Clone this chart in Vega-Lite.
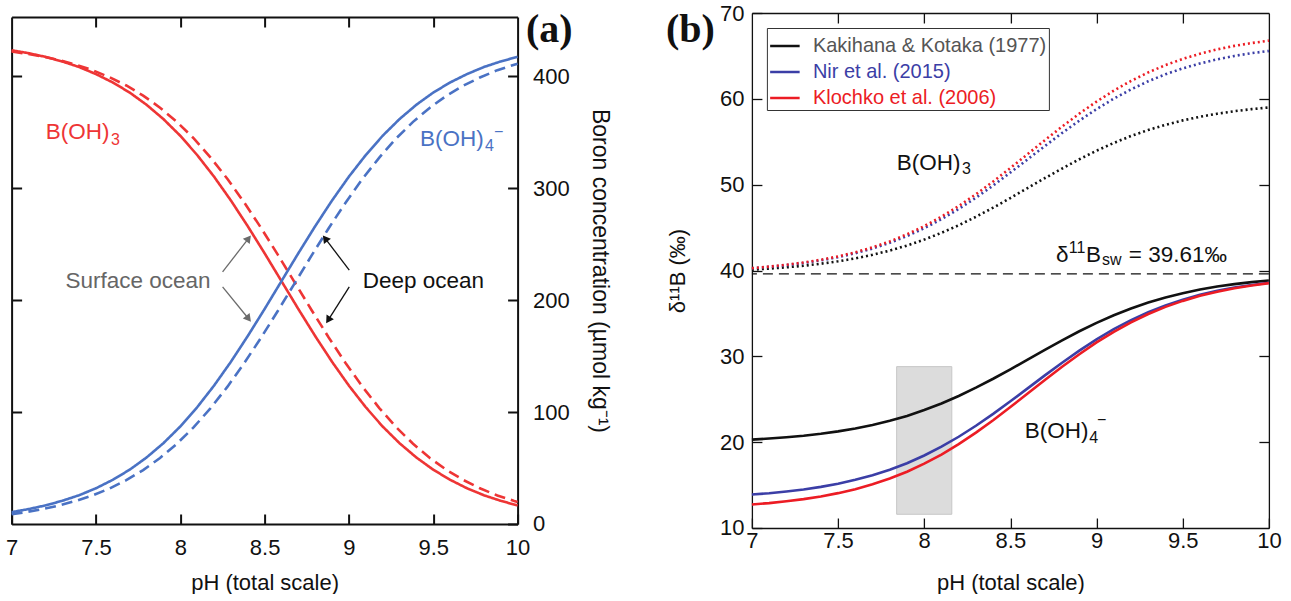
{
"$schema": "https://vega.github.io/schema/vega-lite/v6.json",
"padding": {"left": 4.6, "top": 2, "right": 5, "bottom": 0},
"background": "white",
"config": {"font": "Liberation Sans", "view": {"stroke": null},
 "axis": {"labelFont": "Liberation Sans", "titleFont": "Liberation Sans", "labelColor": "#111", "titleColor": "#111", "titleFontWeight": "normal", "grid": false, "tickColor": "#111", "domainColor": "#111", "labelFlush": false, "labelOverlap": false},
 "text": {"font": "Liberation Sans"}},
"datasets": {
 "boron": [
  {"pH":7.0,"water":"surface","B3":423.3,"B4":10.6},{"pH":7.1,"water":"surface","B3":420.7,"B4":13.3},{"pH":7.2,"water":"surface","B3":417.4,"B4":16.6},{"pH":7.3,"water":"surface","B3":413.3,"B4":20.7},{"pH":7.4,"water":"surface","B3":408.3,"B4":25.7},{"pH":7.5,"water":"surface","B3":402.0,"B4":31.9},{"pH":7.6,"water":"surface","B3":394.5,"B4":39.5},{"pH":7.7,"water":"surface","B3":385.5,"B4":48.5},{"pH":7.8,"water":"surface","B3":374.6,"B4":59.4},{"pH":7.9,"water":"surface","B3":361.8,"B4":72.2},{"pH":8.0,"water":"surface","B3":346.9,"B4":87.1},{"pH":8.1,"water":"surface","B3":329.7,"B4":104.3},{"pH":8.2,"water":"surface","B3":310.4,"B4":123.6},{"pH":8.3,"water":"surface","B3":289.1,"B4":144.9},{"pH":8.4,"water":"surface","B3":266.1,"B4":167.9},{"pH":8.5,"water":"surface","B3":241.9,"B4":192.1},{"pH":8.6,"water":"surface","B3":217.0,"B4":217.0},{"pH":8.7,"water":"surface","B3":192.1,"B4":241.9},{"pH":8.8,"water":"surface","B3":167.9,"B4":266.1},{"pH":8.9,"water":"surface","B3":144.9,"B4":289.1},{"pH":9.0,"water":"surface","B3":123.6,"B4":310.4},{"pH":9.1,"water":"surface","B3":104.3,"B4":329.7},{"pH":9.2,"water":"surface","B3":87.1,"B4":346.9},{"pH":9.3,"water":"surface","B3":72.2,"B4":361.8},{"pH":9.4,"water":"surface","B3":59.4,"B4":374.6},{"pH":9.5,"water":"surface","B3":48.5,"B4":385.5},{"pH":9.6,"water":"surface","B3":39.5,"B4":394.5},{"pH":9.7,"water":"surface","B3":31.9,"B4":402.0},{"pH":9.8,"water":"surface","B3":25.7,"B4":408.3},{"pH":9.9,"water":"surface","B3":20.7,"B4":413.3},{"pH":10.0,"water":"surface","B3":16.6,"B4":417.4},
  {"pH":7.0,"water":"deep","B3":422.2,"B4":8.8},{"pH":7.08,"water":"deep","B3":420.4,"B4":10.5},{"pH":7.18,"water":"deep","B3":417.8,"B4":13.2},{"pH":7.28,"water":"deep","B3":414.5,"B4":16.5},{"pH":7.38,"water":"deep","B3":410.4,"B4":20.6},{"pH":7.48,"water":"deep","B3":405.5,"B4":25.5},{"pH":7.58,"water":"deep","B3":399.2,"B4":31.7},{"pH":7.68,"water":"deep","B3":391.8,"B4":39.2},{"pH":7.78,"water":"deep","B3":382.8,"B4":48.2},{"pH":7.88,"water":"deep","B3":372.0,"B4":59.0},{"pH":7.98,"water":"deep","B3":359.3,"B4":71.7},{"pH":8.08,"water":"deep","B3":344.5,"B4":86.5},{"pH":8.18,"water":"deep","B3":327.4,"B4":103.6},{"pH":8.28,"water":"deep","B3":308.3,"B4":122.7},{"pH":8.38,"water":"deep","B3":287.1,"B4":143.9},{"pH":8.48,"water":"deep","B3":264.3,"B4":166.7},{"pH":8.58,"water":"deep","B3":240.2,"B4":190.8},{"pH":8.68,"water":"deep","B3":215.5,"B4":215.5},{"pH":8.78,"water":"deep","B3":190.8,"B4":240.2},{"pH":8.88,"water":"deep","B3":166.7,"B4":264.3},{"pH":8.98,"water":"deep","B3":143.9,"B4":287.1},{"pH":9.08,"water":"deep","B3":122.7,"B4":308.3},{"pH":9.18,"water":"deep","B3":103.6,"B4":327.4},{"pH":9.28,"water":"deep","B3":86.5,"B4":344.5},{"pH":9.38,"water":"deep","B3":71.7,"B4":359.3},{"pH":9.48,"water":"deep","B3":59.0,"B4":372.0},{"pH":9.58,"water":"deep","B3":48.2,"B4":382.8},{"pH":9.68,"water":"deep","B3":39.2,"B4":391.8},{"pH":9.78,"water":"deep","B3":31.7,"B4":399.2},{"pH":9.88,"water":"deep","B3":25.5,"B4":405.5},{"pH":9.98,"water":"deep","B3":20.6,"B4":410.4},{"pH":10.0,"water":"deep","B3":19.7,"B4":411.3}
 ],
 "iso": [
  {"pH":7.0,"src":"Kakihana & Kotaka (1977)","d4":20.30,"d3":40.10},{"pH":7.1,"src":"Kakihana & Kotaka (1977)","d4":20.42,"d3":40.22},{"pH":7.2,"src":"Kakihana & Kotaka (1977)","d4":20.57,"d3":40.37},{"pH":7.3,"src":"Kakihana & Kotaka (1977)","d4":20.75,"d3":40.56},{"pH":7.4,"src":"Kakihana & Kotaka (1977)","d4":20.98,"d3":40.79},{"pH":7.5,"src":"Kakihana & Kotaka (1977)","d4":21.26,"d3":41.07},{"pH":7.6,"src":"Kakihana & Kotaka (1977)","d4":21.59,"d3":41.41},{"pH":7.7,"src":"Kakihana & Kotaka (1977)","d4":22.00,"d3":41.83},{"pH":7.8,"src":"Kakihana & Kotaka (1977)","d4":22.49,"d3":42.32},{"pH":7.9,"src":"Kakihana & Kotaka (1977)","d4":23.06,"d3":42.91},{"pH":8.0,"src":"Kakihana & Kotaka (1977)","d4":23.74,"d3":43.60},{"pH":8.1,"src":"Kakihana & Kotaka (1977)","d4":24.51,"d3":44.39},{"pH":8.2,"src":"Kakihana & Kotaka (1977)","d4":25.38,"d3":45.27},{"pH":8.3,"src":"Kakihana & Kotaka (1977)","d4":26.35,"d3":46.26},{"pH":8.4,"src":"Kakihana & Kotaka (1977)","d4":27.39,"d3":47.32},{"pH":8.5,"src":"Kakihana & Kotaka (1977)","d4":28.49,"d3":48.44},{"pH":8.6,"src":"Kakihana & Kotaka (1977)","d4":29.62,"d3":49.60},{"pH":8.7,"src":"Kakihana & Kotaka (1977)","d4":30.76,"d3":50.76},{"pH":8.8,"src":"Kakihana & Kotaka (1977)","d4":31.87,"d3":51.88},{"pH":8.9,"src":"Kakihana & Kotaka (1977)","d4":32.92,"d3":52.96},{"pH":9.0,"src":"Kakihana & Kotaka (1977)","d4":33.90,"d3":53.96},{"pH":9.1,"src":"Kakihana & Kotaka (1977)","d4":34.79,"d3":54.86},{"pH":9.2,"src":"Kakihana & Kotaka (1977)","d4":35.58,"d3":55.67},{"pH":9.3,"src":"Kakihana & Kotaka (1977)","d4":36.27,"d3":56.37},{"pH":9.4,"src":"Kakihana & Kotaka (1977)","d4":36.86,"d3":56.97},{"pH":9.5,"src":"Kakihana & Kotaka (1977)","d4":37.36,"d3":57.49},{"pH":9.6,"src":"Kakihana & Kotaka (1977)","d4":37.78,"d3":57.91},{"pH":9.7,"src":"Kakihana & Kotaka (1977)","d4":38.13,"d3":58.27},{"pH":9.8,"src":"Kakihana & Kotaka (1977)","d4":38.41,"d3":58.56},{"pH":9.9,"src":"Kakihana & Kotaka (1977)","d4":38.65,"d3":58.80},{"pH":10.0,"src":"Kakihana & Kotaka (1977)","d4":38.84,"d3":58.99},
  {"pH":7.0,"src":"Nir et al. (2015)","d4":13.90,"d3":40.26},{"pH":7.1,"src":"Nir et al. (2015)","d4":14.05,"d3":40.42},{"pH":7.2,"src":"Nir et al. (2015)","d4":14.25,"d3":40.62},{"pH":7.3,"src":"Nir et al. (2015)","d4":14.49,"d3":40.87},{"pH":7.4,"src":"Nir et al. (2015)","d4":14.79,"d3":41.18},{"pH":7.5,"src":"Nir et al. (2015)","d4":15.16,"d3":41.55},{"pH":7.6,"src":"Nir et al. (2015)","d4":15.61,"d3":42.01},{"pH":7.7,"src":"Nir et al. (2015)","d4":16.14,"d3":42.56},{"pH":7.8,"src":"Nir et al. (2015)","d4":16.79,"d3":43.23},{"pH":7.9,"src":"Nir et al. (2015)","d4":17.55,"d3":44.01},{"pH":8.0,"src":"Nir et al. (2015)","d4":18.45,"d3":44.93},{"pH":8.1,"src":"Nir et al. (2015)","d4":19.47,"d3":45.98},{"pH":8.2,"src":"Nir et al. (2015)","d4":20.63,"d3":47.17},{"pH":8.3,"src":"Nir et al. (2015)","d4":21.91,"d3":48.48},{"pH":8.4,"src":"Nir et al. (2015)","d4":23.30,"d3":49.90},{"pH":8.5,"src":"Nir et al. (2015)","d4":24.76,"d3":51.41},{"pH":8.6,"src":"Nir et al. (2015)","d4":26.27,"d3":52.95},{"pH":8.7,"src":"Nir et al. (2015)","d4":27.78,"d3":54.50},{"pH":8.8,"src":"Nir et al. (2015)","d4":29.26,"d3":56.02},{"pH":8.9,"src":"Nir et al. (2015)","d4":30.66,"d3":57.46},{"pH":9.0,"src":"Nir et al. (2015)","d4":31.97,"d3":58.80},{"pH":9.1,"src":"Nir et al. (2015)","d4":33.16,"d3":60.02},{"pH":9.2,"src":"Nir et al. (2015)","d4":34.21,"d3":61.10},{"pH":9.3,"src":"Nir et al. (2015)","d4":35.13,"d3":62.05},{"pH":9.4,"src":"Nir et al. (2015)","d4":35.93,"d3":62.86},{"pH":9.5,"src":"Nir et al. (2015)","d4":36.60,"d3":63.55},{"pH":9.6,"src":"Nir et al. (2015)","d4":37.16,"d3":64.12},{"pH":9.7,"src":"Nir et al. (2015)","d4":37.63,"d3":64.60},{"pH":9.8,"src":"Nir et al. (2015)","d4":38.01,"d3":65.00},{"pH":9.9,"src":"Nir et al. (2015)","d4":38.32,"d3":65.32},{"pH":10.0,"src":"Nir et al. (2015)","d4":38.58,"d3":65.58},
  {"pH":7.0,"src":"Klochko et al. (2006)","d4":12.74,"d3":40.28},{"pH":7.1,"src":"Klochko et al. (2006)","d4":12.90,"d3":40.45},{"pH":7.2,"src":"Klochko et al. (2006)","d4":13.11,"d3":40.67},{"pH":7.3,"src":"Klochko et al. (2006)","d4":13.36,"d3":40.93},{"pH":7.4,"src":"Klochko et al. (2006)","d4":13.67,"d3":41.25},{"pH":7.5,"src":"Klochko et al. (2006)","d4":14.06,"d3":41.64},{"pH":7.6,"src":"Klochko et al. (2006)","d4":14.52,"d3":42.12},{"pH":7.7,"src":"Klochko et al. (2006)","d4":15.09,"d3":42.70},{"pH":7.8,"src":"Klochko et al. (2006)","d4":15.76,"d3":43.39},{"pH":7.9,"src":"Klochko et al. (2006)","d4":16.56,"d3":44.21},{"pH":8.0,"src":"Klochko et al. (2006)","d4":17.49,"d3":45.17},{"pH":8.1,"src":"Klochko et al. (2006)","d4":18.56,"d3":46.27},{"pH":8.2,"src":"Klochko et al. (2006)","d4":19.77,"d3":47.51},{"pH":8.3,"src":"Klochko et al. (2006)","d4":21.11,"d3":48.88},{"pH":8.4,"src":"Klochko et al. (2006)","d4":22.56,"d3":50.37},{"pH":8.5,"src":"Klochko et al. (2006)","d4":24.09,"d3":51.94},{"pH":8.6,"src":"Klochko et al. (2006)","d4":25.66,"d3":53.56},{"pH":8.7,"src":"Klochko et al. (2006)","d4":27.24,"d3":55.18},{"pH":8.8,"src":"Klochko et al. (2006)","d4":28.78,"d3":56.77},{"pH":8.9,"src":"Klochko et al. (2006)","d4":30.25,"d3":58.28},{"pH":9.0,"src":"Klochko et al. (2006)","d4":31.62,"d3":59.68},{"pH":9.1,"src":"Klochko et al. (2006)","d4":32.86,"d3":60.95},{"pH":9.2,"src":"Klochko et al. (2006)","d4":33.96,"d3":62.09},{"pH":9.3,"src":"Klochko et al. (2006)","d4":34.93,"d3":63.08},{"pH":9.4,"src":"Klochko et al. (2006)","d4":35.76,"d3":63.93},{"pH":9.5,"src":"Klochko et al. (2006)","d4":36.46,"d3":64.65},{"pH":9.6,"src":"Klochko et al. (2006)","d4":37.05,"d3":65.25},{"pH":9.7,"src":"Klochko et al. (2006)","d4":37.53,"d3":65.76},{"pH":9.8,"src":"Klochko et al. (2006)","d4":37.94,"d3":66.17},{"pH":9.9,"src":"Klochko et al. (2006)","d4":38.26,"d3":66.50},{"pH":10.0,"src":"Klochko et al. (2006)","d4":38.53,"d3":66.78}
 ]
},
"hconcat": [
 {
  "width": 506, "height": 507,
  "resolve": {"axis": {"x": "independent", "y": "independent"}},
  "layer": [
   {"data": {"name": "boron"},
    "mark": {"type": "line", "color": "#ee3535", "strokeWidth": 2.6},
    "encoding": {
     "x": {"field": "pH", "type": "quantitative", "scale": {"domain": [7, 10], "nice": false, "zero": false},
       "axis": {"orient": "bottom", "values": [7, 7.5, 8, 8.5, 9, 9.5, 10], "format": "~g", "tickSize": -10, "tickWidth": 2, "domainWidth": 2, "labelPadding": 24, "labelFontSize": 22, "title": "pH (total scale)", "titleFontSize": 22, "titlePadding": 14}},
     "y": {"field": "B3", "type": "quantitative", "scale": {"domain": [0, 453], "nice": false},
       "axis": {"orient": "right", "values": [0, 100, 200, 300, 400], "tickSize": -10, "tickWidth": 2, "domainWidth": 2, "labelPadding": 25, "labelFontSize": 22, "title": "Boron concentration (µmol kg⁻¹)", "titleFontSize": 23, "titlePadding": 18}},
     "strokeDash": {"field": "water", "type": "nominal", "scale": {"domain": ["surface", "deep"], "range": [[1, 0], [11, 6]]}, "legend": null}
    }},
   {"data": {"name": "boron"},
    "mark": {"type": "line", "color": "#4a72c4", "strokeWidth": 2.6},
    "encoding": {
     "x": {"field": "pH", "type": "quantitative", "scale": {"domain": [7, 10], "nice": false, "zero": false}, "axis": null},
     "y": {"field": "B4", "type": "quantitative", "scale": {"domain": [0, 453], "nice": false}, "axis": null},
     "strokeDash": {"field": "water", "type": "nominal", "scale": {"domain": ["surface", "deep"], "range": [[1, 0], [11, 6]]}, "legend": null}
    }},
   {"data": {"values": [{"x1": 8.251, "y1": 225.3, "x2": 8.405, "y2": 255.2}, {"x1": 8.251, "y1": 211.9, "x2": 8.405, "y2": 183.4}]},
    "mark": {"type": "rule", "color": "#6b6b6b", "strokeWidth": 1.3},
    "encoding": {
     "x": {"field": "x1", "type": "quantitative", "scale": {"domain": [7, 10], "nice": false, "zero": false}, "axis": null},
     "y": {"field": "y1", "type": "quantitative", "scale": {"domain": [0, 453], "nice": false}, "axis": null},
     "x2": {"field": "x2"}, "y2": {"field": "y2"}}},
   {"data": {"values": [{"x1": 9.002, "y1": 226.8, "x2": 8.859, "y2": 255.2}, {"x1": 9.002, "y1": 211.9, "x2": 8.877, "y2": 182.2}]},
    "mark": {"type": "rule", "color": "#111111", "strokeWidth": 1.3},
    "encoding": {
     "x": {"field": "x1", "type": "quantitative", "scale": {"domain": [7, 10], "nice": false, "zero": false}, "axis": null},
     "y": {"field": "y1", "type": "quantitative", "scale": {"domain": [0, 453], "nice": false}, "axis": null},
     "x2": {"field": "x2"}, "y2": {"field": "y2"}}},
   {"data": {"values": [{"x": 8.405, "y": 255.2, "dir": 37.6}, {"x": 8.405, "y": 183.4, "dir": 141}]},
    "mark": {"type": "point", "shape": "triangle-up", "filled": true, "color": "#6b6b6b", "size": 75, "opacity": 1},
    "encoding": {
     "x": {"field": "x", "type": "quantitative", "scale": {"domain": [7, 10], "nice": false, "zero": false}, "axis": null},
     "y": {"field": "y", "type": "quantitative", "scale": {"domain": [0, 453], "nice": false}, "axis": null},
     "angle": {"field": "dir", "type": "quantitative", "scale": {"domain": [0, 360], "range": [0, 360]}, "legend": null}}},
   {"data": {"values": [{"x": 8.859, "y": 255.2, "dir": 322.8}, {"x": 8.877, "y": 182.2, "dir": 212.5}]},
    "mark": {"type": "point", "shape": "triangle-up", "filled": true, "color": "#111111", "size": 75, "opacity": 1},
    "encoding": {
     "x": {"field": "x", "type": "quantitative", "scale": {"domain": [7, 10], "nice": false, "zero": false}, "axis": null},
     "y": {"field": "y", "type": "quantitative", "scale": {"domain": [0, 453], "nice": false}, "axis": null},
     "angle": {"field": "dir", "type": "quantitative", "scale": {"domain": [0, 360], "range": [0, 360]}, "legend": null}}},
   {"data": {"values": [{"x": 7.203, "y": 344.4, "t": "B(OH)"}]},
    "mark": {"type": "text", "align": "left", "baseline": "alphabetic", "fontSize": 22.5, "color": "#ee3535"},
    "encoding": {
     "x": {"field": "x", "type": "quantitative", "scale": {"domain": [7, 10], "nice": false, "zero": false}, "axis": null},
     "y": {"field": "y", "type": "quantitative", "scale": {"domain": [0, 453], "nice": false}, "axis": null},
     "text": {"field": "t"}}},
   {"data": {"values": [{"x": 7.589, "y": 338.4, "t": "3"}]},
    "mark": {"type": "text", "align": "left", "baseline": "alphabetic", "fontSize": 16, "color": "#ee3535"},
    "encoding": {
     "x": {"field": "x", "type": "quantitative", "scale": {"domain": [7, 10], "nice": false, "zero": false}, "axis": null},
     "y": {"field": "y", "type": "quantitative", "scale": {"domain": [0, 453], "nice": false}, "axis": null},
     "text": {"field": "t"}}},
   {"data": {"values": [{"x": 9.422, "y": 337.5, "t": "B(OH)"}]},
    "mark": {"type": "text", "align": "left", "baseline": "alphabetic", "fontSize": 22.5, "color": "#4a72c4"},
    "encoding": {
     "x": {"field": "x", "type": "quantitative", "scale": {"domain": [7, 10], "nice": false, "zero": false}, "axis": null},
     "y": {"field": "y", "type": "quantitative", "scale": {"domain": [0, 453], "nice": false}, "axis": null},
     "text": {"field": "t"}}},
   {"data": {"values": [{"x": 9.807, "y": 333.3, "t": "4"}, {"x": 9.86, "y": 345.5, "t": "−"}]},
    "mark": {"type": "text", "align": "left", "baseline": "alphabetic", "fontSize": 16, "color": "#4a72c4"},
    "encoding": {
     "x": {"field": "x", "type": "quantitative", "scale": {"domain": [7, 10], "nice": false, "zero": false}, "axis": null},
     "y": {"field": "y", "type": "quantitative", "scale": {"domain": [0, 453], "nice": false}, "axis": null},
     "text": {"field": "t"}}},
   {"data": {"values": [{"x": 7.32, "y": 210.7, "t": "Surface ocean"}]},
    "mark": {"type": "text", "align": "left", "baseline": "alphabetic", "fontSize": 22.5, "color": "#666666"},
    "encoding": {
     "x": {"field": "x", "type": "quantitative", "scale": {"domain": [7, 10], "nice": false, "zero": false}, "axis": null},
     "y": {"field": "y", "type": "quantitative", "scale": {"domain": [0, 453], "nice": false}, "axis": null},
     "text": {"field": "t"}}},
   {"data": {"values": [{"x": 9.082, "y": 210.7, "t": "Deep ocean"}]},
    "mark": {"type": "text", "align": "left", "baseline": "alphabetic", "fontSize": 22.5, "color": "#111111"},
    "encoding": {
     "x": {"field": "x", "type": "quantitative", "scale": {"domain": [7, 10], "nice": false, "zero": false}, "axis": null},
     "y": {"field": "y", "type": "quantitative", "scale": {"domain": [0, 453], "nice": false}, "axis": null},
     "text": {"field": "t"}}},
   {"data": {"values": [{"x": 10.05, "y": 430.4, "t": "(a)"}]},
    "mark": {"type": "text", "align": "left", "baseline": "alphabetic", "fontSize": 40, "font": "Liberation Serif", "fontWeight": "bold", "color": "#111111"},
    "encoding": {
     "x": {"field": "x", "type": "quantitative", "scale": {"domain": [7, 10], "nice": false, "zero": false},
       "axis": {"orient": "top", "values": [7.5, 8, 8.5, 9, 9.5], "labels": false, "tickSize": -10, "tickWidth": 2, "domainWidth": 2, "title": null}},
     "y": {"field": "y", "type": "quantitative", "scale": {"domain": [0, 453], "nice": false},
       "axis": {"orient": "left", "values": [100, 200, 300, 400], "labels": false, "tickSize": -10, "tickWidth": 2, "domainWidth": 2, "title": null}},
     "text": {"field": "t"}}}
  ]
 },
 {
  "width": 517, "height": 515,
  "resolve": {"axis": {"x": "independent", "y": "independent"}},
  "layer": [
   {"data": {"values": [{"x1": 7.84, "x2": 8.16, "y1": 11.6, "y2": 28.8}]},
    "mark": {"type": "rect", "fill": "#dcdcdc", "stroke": "#c6c6c6", "strokeWidth": 1},
    "encoding": {
     "x": {"field": "x1", "type": "quantitative", "scale": {"domain": [7, 10], "nice": false, "zero": false},
       "axis": {"orient": "top", "values": [7.5, 8, 8.5, 9, 9.5], "labels": false, "tickSize": -10, "tickWidth": 1.3, "domainWidth": 1.3, "title": null}},
     "x2": {"field": "x2"},
     "y": {"field": "y1", "type": "quantitative", "scale": {"domain": [10, 70], "nice": false, "zero": false},
       "axis": {"orient": "right", "values": [20, 30, 40, 50, 60], "labels": false, "tickSize": -10, "tickWidth": 1.3, "domainWidth": 1.3, "title": null}},
     "y2": {"field": "y2"}}},
   {"data": {"values": [{"sw": 39.61}]},
    "mark": {"type": "rule", "color": "#111111", "strokeWidth": 1.2, "strokeDash": [10, 6]},
    "encoding": {
     "y": {"field": "sw", "type": "quantitative", "scale": {"domain": [10, 70], "nice": false, "zero": false}, "axis": null}}},
   {"data": {"name": "iso"},
    "mark": {"type": "line", "strokeWidth": 2.6},
    "encoding": {
     "x": {"field": "pH", "type": "quantitative", "scale": {"domain": [7, 10], "nice": false, "zero": false},
       "axis": {"orient": "bottom", "values": [7, 7.5, 8, 8.5, 9, 9.5, 10], "format": "~g", "tickSize": -10, "tickWidth": 1.3, "domainWidth": 1.3, "labelPadding": 12.5, "labelFontSize": 22, "title": "pH (total scale)", "titleFontSize": 22, "titlePadding": 21}},
     "y": {"field": "d4", "type": "quantitative", "scale": {"domain": [10, 70], "nice": false, "zero": false},
       "axis": {"orient": "left", "values": [10, 20, 30, 40, 50, 60, 70], "tickSize": -10, "tickWidth": 1.3, "domainWidth": 1.3, "labelPadding": 18, "labelFontSize": 22, "title": "δ¹¹B (‰)", "titleFontSize": 22, "titlePadding": 30}},
     "color": {"field": "src", "type": "nominal",
       "scale": {"domain": ["Kakihana & Kotaka (1977)", "Nir et al. (2015)", "Klochko et al. (2006)"], "range": ["#111111", "#3b3ea6", "#ec1c24"]},
       "legend": {"orient": "top-left", "offset": 15, "title": null, "symbolType": "stroke", "symbolStrokeWidth": 2.5, "symbolSize": 870, "symbolDash": [1, 0], "labelFontSize": 20, "labelFont": "Liberation Sans", "labelOffset": 12, "labelLimit": 400, "strokeColor": "#333333", "fillColor": "white", "padding": 2, "rowPadding": -3.5,
         "labelColor": {"expr": "datum.label == 'Nir et al. (2015)' ? '#3b3ea6' : datum.label == 'Klochko et al. (2006)' ? '#ec1c24' : '#555555'"}}}
    }},
   {"data": {"name": "iso"},
    "mark": {"type": "line", "strokeWidth": 2.6, "strokeDash": [2, 3]},
    "encoding": {
     "x": {"field": "pH", "type": "quantitative", "scale": {"domain": [7, 10], "nice": false, "zero": false}, "axis": null},
     "y": {"field": "d3", "type": "quantitative", "scale": {"domain": [10, 70], "nice": false, "zero": false}, "axis": null},
     "color": {"field": "src", "type": "nominal", "legend": null}
    }},
   {"data": {"values": [{"x": 7.841, "y": 51.71, "t": "B(OH)"}, {"x": 8.584, "y": 20.48, "t": "B(OH)"}, {"x": 8.764, "y": 41.02, "t": "δ"}, {"x": 8.938, "y": 41.02, "t": "B"}, {"x": 9.187, "y": 41.02, "t": "= 39.61‰"}]},
    "mark": {"type": "text", "align": "left", "baseline": "alphabetic", "fontSize": 22.5, "color": "#111111"},
    "encoding": {
     "x": {"field": "x", "type": "quantitative", "scale": {"domain": [7, 10], "nice": false, "zero": false}, "axis": null},
     "y": {"field": "y", "type": "quantitative", "scale": {"domain": [10, 70], "nice": false, "zero": false}, "axis": null},
     "text": {"field": "t"}}},
   {"data": {"values": [{"x": 8.219, "y": 51.24, "t": "3"}, {"x": 8.958, "y": 19.9, "t": "4"}, {"x": 9.002, "y": 22.0, "t": "−"}, {"x": 8.839, "y": 42.0, "t": "11"}, {"x": 9.031, "y": 40.64, "t": "sw"}]},
    "mark": {"type": "text", "align": "left", "baseline": "alphabetic", "fontSize": 16, "color": "#111111"},
    "encoding": {
     "x": {"field": "x", "type": "quantitative", "scale": {"domain": [7, 10], "nice": false, "zero": false}, "axis": null},
     "y": {"field": "y", "type": "quantitative", "scale": {"domain": [10, 70], "nice": false, "zero": false}, "axis": null},
     "text": {"field": "t"}}},
   {"data": {"values": [{"x": 6.501, "y": 66.62, "t": "(b)"}]},
    "mark": {"type": "text", "align": "left", "baseline": "alphabetic", "fontSize": 40, "font": "Liberation Serif", "fontWeight": "bold", "color": "#111111"},
    "encoding": {
     "x": {"field": "x", "type": "quantitative", "scale": {"domain": [7, 10], "nice": false, "zero": false}, "axis": null},
     "y": {"field": "y", "type": "quantitative", "scale": {"domain": [10, 70], "nice": false, "zero": false}, "axis": null},
     "text": {"field": "t"}}}
  ]
 }
],
"spacing": 234.3,
"bounds": "flush",
"center": true,
"resolve": {"scale": {"color": "independent", "strokeDash": "independent", "angle": "independent"}, "legend": {"color": "independent", "strokeDash": "independent", "angle": "independent"}}
}
